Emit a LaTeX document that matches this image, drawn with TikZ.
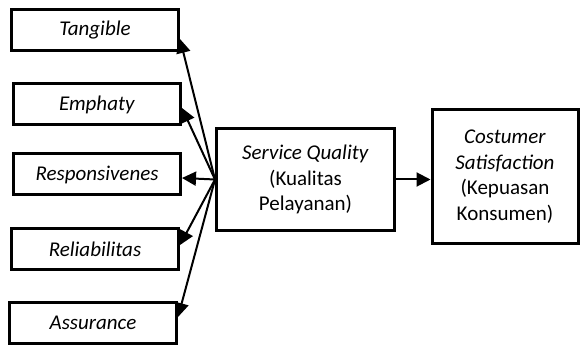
\documentclass[tikz,border=0pt]{standalone}
\usepackage{fontspec}
\setmainfont{Carlito}
\usetikzlibrary{arrows.meta, positioning}

\begin{document}
\begin{tikzpicture}[x=0.5pt, y=-0.5pt,
    every node/.style={font=\fontsize{10.5}{12.8}\selectfont},
    dimbox/.style={draw, rectangle, line width=1.5pt, minimum width=83.5pt, minimum height=20.5pt, inner sep=0pt},
    mainbox/.style={draw, rectangle, line width=1.5pt, align=center, inner sep=0pt},
    link/.style={-{Triangle[length=7pt, width=7pt]}, line width=1pt}]
                \useasboundingbox (0,0) rectangle (584,347);
                % service quality dimensions
                \node[dimbox] (tangible) at (95, 30) {\textit{Tangible}};
                \node[dimbox] (emphaty) at (97, 104.5) {\textit{Emphaty}};
                \node[dimbox] (respons) at (97, 174.5) {\textit{Responsivenes}};
                \node[dimbox] (reliab) at (95, 249.5) {\textit{Reliabilitas}};
                \node[dimbox] (assur) at (93, 323) {\textit{Assurance}};
                
                % main variables
                \node[mainbox, minimum width=89pt, minimum height=51pt] (sq) at (305.5, 179.5) {\textit{Service Quality}\\(Kualitas\\Pelayanan)};
                \node[mainbox, minimum width=73pt, minimum height=67pt] (cs) at (505, 176.5) {\textit{Costumer}\\\textit{Satisfaction}\\(Kepuasan\\Konsumen)};
                
                \draw[link] (sq.west) -- ([yshift=-4.5pt]tangible.east);
                \draw[link] (sq.west) -- ([yshift=-1.75pt]emphaty.east);
                \draw[link] (sq.west) -- ([yshift=-1.75pt]respons.east);
                \draw[link] (sq.west) -- ([yshift=2.25pt]reliab.east);
                \draw[link] (sq.west) -- ([yshift=3pt]assur.east);
                \draw[link] (sq.east) -- (sq.east -| cs.west);
            \end{tikzpicture}
\end{document}
